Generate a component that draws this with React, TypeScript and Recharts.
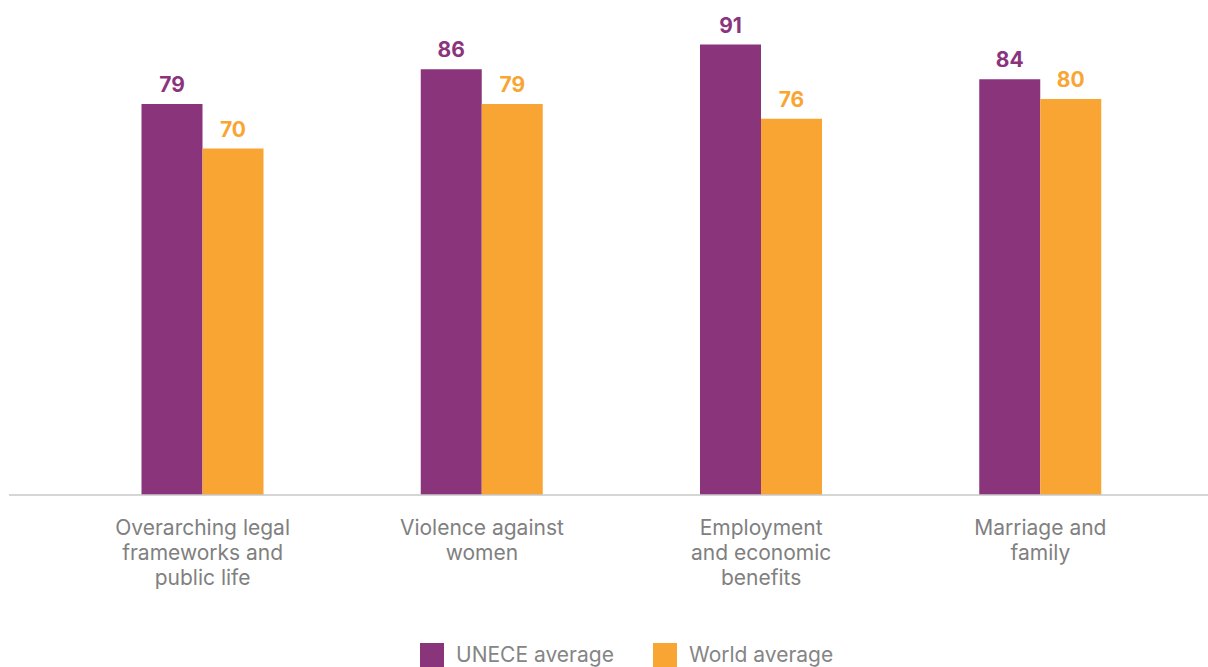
import React from "react";
import { BarChart, Bar, XAxis, YAxis, Legend, LabelList } from "recharts";

const categories = [
  "Overarching legal frameworks and public life",
  "Violence against women",
  "Employment and economic benefits",
  "Marriage and family",
];
const tickLines = [
  ["Overarching legal", "frameworks and", "public life"],
  ["Violence against", "women"],
  ["Employment", "and economic", "benefits"],
  ["Marriage and", "family"],
];
const unece = [79, 86, 91, 84];
const world = [70, 79, 76, 80];
const seriesNames = ["UNECE average", "World average"];
const colors = ["#8a347c", "#f9a533"];

const data = categories.map((c, i) => ({ name: c, idx: i, unece: unece[i], world: world[i] }));

const FONT = "Inter, 'Noto Sans', sans-serif";

const Tick = (props: any) => {
  const { x, y, payload } = props;
  const lines = tickLines[payload.index] || [payload.value];
  return (
    <text x={x} y={y} textAnchor="middle" fill="#808080" fontSize={21} fontWeight={400} fontFamily={FONT}>
      {lines.map((l: string, i: number) => (
        <tspan key={i} x={x} dy={i === 0 ? 32 : 25}>
          {l}
        </tspan>
      ))}
    </text>
  );
};

const LegendContent = () => (
  <div style={{ position: "relative", width: 1208, height: 40, fontFamily: FONT }}>
    {seriesNames.map((n, i) => (
      <div key={n} style={{ position: "absolute", left: i === 0 ? 420 : 653, top: 16, display: "flex", alignItems: "center" }}>
        <div style={{ width: 24, height: 24, background: colors[i] }} />
        <span style={{ marginLeft: 12, fontSize: 21, color: "#858585", lineHeight: "24px" }}>{n}</span>
      </div>
    ))}
  </div>
);

export default function App() {
  return (
    <div style={{ position: "absolute", left: 0, top: 0, width: 1208, height: 667, background: "#fff" }}>
      <BarChart
        width={1208}
        height={667}
        data={data}
        margin={{ top: 0, right: 0, left: 9, bottom: 0 }}
        barCategoryGap={78.5}
        barGap={0}
      >
        <XAxis
          dataKey="name"
          interval={0}
          height={132}
          tickLine={false}
          axisLine={{ stroke: "#c8c8c8", strokeWidth: 1.5 }}
          tick={<Tick />}
          padding={{ left: 54, right: 28 }}
        />
        <YAxis hide domain={[0, 100]} />
        <Legend verticalAlign="bottom" height={40} content={<LegendContent />} wrapperStyle={{ left: 0, width: 1208 }} />
        <Bar dataKey="unece" name={seriesNames[0]} fill={colors[0]} isAnimationActive={false}>
          <LabelList dataKey="unece" position="top" offset={12} fill={colors[0]} fontSize={21} fontWeight={700} fontFamily={FONT} />
        </Bar>
        <Bar dataKey="world" name={seriesNames[1]} fill={colors[1]} isAnimationActive={false}>
          <LabelList dataKey="world" position="top" offset={12} fill={colors[1]} fontSize={21} fontWeight={700} fontFamily={FONT} />
        </Bar>
      </BarChart>
    </div>
  );
}
